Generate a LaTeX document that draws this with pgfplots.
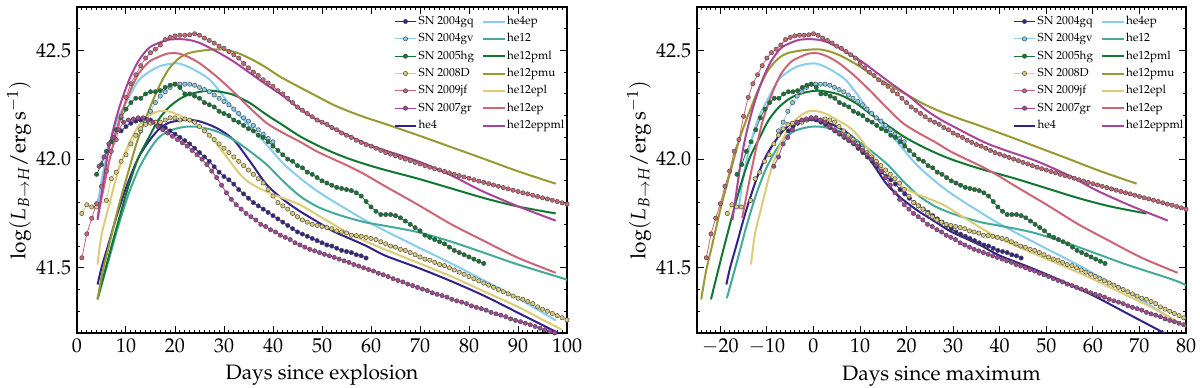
\documentclass[border=0pt]{standalone}
\usepackage[T1]{fontenc}
\usepackage{mathpazo}
\usepackage{pgfplots}
\usepackage{pgfplotstable}
\pgfplotsset{compat=1.18}

\definecolor{c1}{HTML}{332288}
\definecolor{c2}{HTML}{88CCEE}
\definecolor{c3}{HTML}{117733}
\definecolor{c4}{HTML}{DDCC77}
\definecolor{c5}{HTML}{CC6677}
\definecolor{c6}{HTML}{AA4499}
\definecolor{c7}{HTML}{44AA99}
\definecolor{c8}{HTML}{999933}

% observed light curves, t = days since explosion
\pgfplotstableread[row sep=\\]{t L\\
9 42.13\\ 10 42.15\\ 11 42.165\\ 12 42.175\\ 13 42.18\\ 14 42.185\\ 15 42.18\\ 16 42.17\\ 17 42.16\\ 18 42.145\\
19 42.13\\ 20 42.115\\ 21 42.10\\ 22 42.085\\ 23 42.07\\ 24 42.05\\ 25 42.03\\ 26 42.01\\ 27 41.99\\ 28 41.965\\
29 41.94\\ 30 41.92\\ 31 41.905\\ 32 41.885\\ 33 41.86\\ 34 41.84\\ 35 41.82\\ 36 41.80\\ 37 41.785\\ 38 41.77\\
39 41.755\\ 40 41.74\\ 41 41.725\\ 42 41.71\\ 43 41.695\\ 44 41.68\\ 45 41.665\\ 46 41.655\\ 47 41.645\\ 48 41.635\\
49 41.625\\ 50 41.615\\ 51 41.605\\ 52 41.60\\ 53 41.59\\ 54 41.58\\ 55 41.575\\ 56 41.57\\ 57 41.56\\ 58 41.555\\ 59 41.545\\
}\sngq
\pgfplotstableread[row sep=\\]{t L\\
13 42.13\\ 14 42.17\\ 15 42.22\\ 16 42.26\\ 17 42.29\\ 18 42.31\\ 19 42.33\\ 20 42.345\\ 21 42.345\\ 22 42.345\\
23 42.345\\ 24 42.34\\ 25 42.33\\ 26 42.32\\ 27 42.31\\ 28 42.295\\ 29 42.28\\ 30 42.265\\ 31 42.25\\ 32 42.23\\
33 42.21\\ 34 42.19\\ 35 42.175\\ 36 42.155\\ 37 42.135\\ 38 42.115\\ 39 42.095\\ 40 42.08\\
}\sngv
\pgfplotstableread[row sep=\\]{t L\\
4 41.93\\ 5 41.975\\ 6 42.036\\ 7 42.08\\ 8 42.135\\ 9 42.19\\ 10 42.23\\ 11 42.26\\ 12 42.28\\ 13 42.28\\
14 42.30\\ 15 42.31\\ 16 42.31\\ 17 42.315\\ 18 42.33\\ 19 42.34\\ 20 42.345\\ 21 42.33\\ 22 42.30\\ 23 42.30\\
24 42.29\\ 25 42.28\\ 26 42.26\\ 27 42.25\\ 28 42.24\\ 29 42.22\\ 30 42.21\\ 31 42.20\\ 32 42.18\\ 33 42.17\\
34 42.155\\ 35 42.14\\ 36 42.13\\ 37 42.11\\ 38 42.10\\ 39 42.08\\ 40 42.06\\ 41 42.04\\ 42 42.02\\ 43 42.00\\
44 41.99\\ 45 41.97\\ 46 41.96\\ 47 41.94\\ 48 41.93\\ 49 41.915\\ 50 41.90\\ 51 41.89\\ 52 41.88\\ 53 41.87\\
54 41.865\\ 55 41.86\\ 56 41.855\\ 57 41.845\\ 58 41.83\\ 59 41.805\\ 60 41.78\\ 61 41.76\\ 62 41.745\\ 63 41.745\\
64 41.745\\ 65 41.74\\ 66 41.73\\ 67 41.715\\ 68 41.70\\ 69 41.685\\ 70 41.67\\ 71 41.65\\ 72 41.64\\ 73 41.63\\
74 41.62\\ 75 41.61\\ 76 41.595\\ 77 41.58\\ 78 41.57\\ 79 41.56\\ 80 41.55\\ 81 41.54\\ 82 41.53\\ 83 41.52\\
}\snhg
\pgfplotstableread[row sep=\\]{t L\\
1 41.75\\ 2 41.79\\ 3 41.78\\ 4 41.78\\ 6 41.81\\ 7 41.91\\ 8 41.94\\ 9 41.99\\ 10 42.02\\ 11 42.07\\
12 42.11\\ 13 42.14\\ 14 42.16\\ 15 42.165\\ 16 42.17\\ 17 42.17\\ 18 42.18\\ 19 42.19\\ 20 42.19\\ 21 42.18\\
22 42.185\\ 23 42.18\\ 24 42.17\\ 25 42.15\\ 26 42.13\\ 27 42.11\\ 28 42.09\\ 29 42.07\\ 30 42.05\\ 31 42.03\\
32 42.01\\ 33 41.99\\ 34 41.97\\ 35 41.95\\ 36 41.93\\ 37 41.91\\ 38 41.89\\ 39 41.86\\ 40 41.83\\ 41 41.80\\
42 41.785\\ 43 41.77\\ 44 41.75\\ 45 41.735\\ 46 41.72\\ 47 41.71\\ 48 41.70\\ 49 41.695\\ 50 41.69\\ 51 41.685\\
52 41.68\\ 53 41.67\\ 54 41.665\\ 55 41.66\\ 56 41.65\\ 57 41.648\\ 58 41.645\\ 59 41.64\\ 60 41.635\\ 61 41.63\\
62 41.62\\ 63 41.61\\ 64 41.60\\ 65 41.595\\ 66 41.585\\ 67 41.58\\ 68 41.57\\ 69 41.56\\ 70 41.55\\ 71 41.54\\
72 41.535\\ 73 41.525\\ 74 41.515\\ 75 41.51\\ 76 41.50\\ 77 41.49\\ 78 41.48\\ 79 41.47\\ 80 41.46\\ 81 41.45\\
82 41.44\\ 83 41.43\\ 84 41.42\\ 85 41.41\\ 86 41.40\\ 87 41.39\\ 88 41.38\\ 89 41.37\\ 90 41.36\\ 91 41.355\\
92 41.345\\ 93 41.335\\ 94 41.32\\ 95 41.31\\ 96 41.30\\ 97 41.29\\ 98 41.28\\ 99 41.27\\ 100 41.26\\
}\snD
\pgfplotstableread[row sep=\\]{t L\\
1 41.546\\ 2 41.656\\ 3 41.728\\ 4 41.795\\ 5 41.875\\ 6 41.945\\ 7 42.036\\ 8 42.09\\ 9 42.197\\ 10 42.284\\
11 42.347\\ 12 42.388\\ 13 42.43\\ 14 42.465\\ 15 42.49\\ 16 42.506\\ 17 42.525\\ 18 42.55\\ 19 42.56\\ 20 42.567\\
21 42.57\\ 22 42.57\\ 23 42.572\\ 24 42.577\\ 25 42.57\\ 26 42.557\\ 27 42.546\\ 28 42.534\\ 29 42.52\\ 30 42.51\\
31 42.495\\ 32 42.48\\ 33 42.465\\ 34 42.44\\ 35 42.42\\ 36 42.40\\ 37 42.385\\ 38 42.365\\ 39 42.35\\ 40 42.335\\
41 42.315\\ 42 42.30\\ 43 42.28\\ 44 42.26\\ 45 42.24\\ 46 42.225\\ 47 42.21\\ 48 42.195\\ 49 42.18\\ 50 42.17\\
51 42.16\\ 52 42.145\\ 53 42.135\\ 54 42.12\\ 55 42.11\\ 56 42.10\\ 57 42.087\\ 58 42.077\\ 59 42.067\\ 60 42.06\\
61 42.05\\ 62 42.04\\ 63 42.03\\ 64 42.023\\ 65 42.015\\ 66 42.008\\ 67 42.0\\ 68 41.993\\ 69 41.985\\ 70 41.978\\
71 41.97\\ 72 41.963\\ 73 41.956\\ 74 41.95\\ 75 41.943\\ 76 41.937\\ 77 41.93\\ 78 41.924\\ 79 41.918\\ 80 41.912\\
81 41.905\\ 82 41.899\\ 83 41.893\\ 84 41.887\\ 85 41.881\\ 86 41.875\\ 87 41.869\\ 88 41.863\\ 89 41.857\\ 90 41.851\\
91 41.845\\ 92 41.84\\ 93 41.834\\ 94 41.828\\ 95 41.822\\ 96 41.817\\ 97 41.811\\ 98 41.805\\ 99 41.799\\ 100 41.793\\
101 41.788\\ 102 41.782\\ 103 41.776\\ 104 41.77\\ 105 41.764\\
}\snjf
\pgfplotstableread[row sep=\\]{t L\\
4.5 41.967\\ 5.5 42.01\\ 6.5 42.07\\ 7.5 42.10\\ 8.5 42.135\\ 9.5 42.17\\ 10.5 42.18\\ 11.5 42.185\\ 12.5 42.19\\ 13.5 42.19\\
14.5 42.18\\ 15.5 42.17\\ 16.5 42.15\\ 17.5 42.135\\ 18.5 42.12\\ 19.5 42.105\\ 20.5 42.09\\ 21.5 42.075\\ 22.5 42.06\\ 23.5 42.04\\
24.5 42.02\\ 25.5 42.0\\ 26.5 41.975\\ 27.5 41.945\\ 28.5 41.915\\ 29.5 41.88\\ 30.5 41.845\\ 31.5 41.815\\ 32.5 41.79\\ 33.5 41.77\\
34.5 41.75\\ 35.5 41.735\\ 36.5 41.72\\ 37.5 41.70\\ 38.5 41.69\\ 39.5 41.675\\ 40.5 41.665\\ 41.5 41.65\\ 42.5 41.64\\ 43.5 41.63\\
44.5 41.615\\ 45.5 41.605\\ 46.5 41.595\\ 47.5 41.585\\ 48.5 41.578\\ 49.5 41.57\\ 50.5 41.562\\ 51.5 41.555\\ 52.5 41.548\\ 53.5 41.54\\
54.5 41.532\\ 55.5 41.525\\ 56.5 41.515\\ 57.5 41.508\\ 58.5 41.5\\ 59.5 41.492\\ 60.5 41.485\\ 61.5 41.475\\ 62.5 41.468\\ 63.5 41.46\\
64.5 41.45\\ 65.5 41.442\\ 66.5 41.435\\ 67.5 41.425\\ 68.5 41.418\\ 69.5 41.41\\ 70.5 41.402\\ 71.5 41.395\\ 72.5 41.385\\ 73.5 41.378\\
74.5 41.372\\ 75.5 41.365\\ 76.5 41.355\\ 77.5 41.348\\ 78.5 41.342\\ 79.5 41.335\\ 80.5 41.325\\ 81.5 41.318\\ 82.5 41.312\\ 83.5 41.305\\
84.5 41.295\\ 85.5 41.288\\ 86.5 41.282\\ 87.5 41.275\\ 88.5 41.265\\ 89.5 41.258\\ 90.5 41.252\\ 91.5 41.245\\ 92.5 41.238\\ 93.5 41.23\\
94.5 41.222\\ 95.5 41.215\\ 96.5 41.208\\ 97.5 41.2\\ 98.5 41.193\\ 99.5 41.186\\
}\sngr

% model light curves
\pgfplotstableread[row sep=\\]{t L\\
4.2 41.423\\ 5 41.50\\ 6.4 41.607\\ 8.4 41.76\\ 10.5 41.898\\ 12.5 42.005\\ 14.6 42.08\\ 16.6 42.135\\ 18.6 42.166\\
20.7 42.177\\ 22.7 42.18\\ 25 42.174\\ 28.5 42.143\\ 31.9 42.09\\ 35.3 41.99\\ 38.7 41.883\\ 42.1 41.814\\ 45.5 41.76\\
48.9 41.714\\ 52.3 41.668\\ 55.7 41.634\\ 59.1 41.60\\ 62.9 41.556\\ 69.6 41.50\\ 76.4 41.438\\ 83.2 41.37\\ 90 41.293\\
96.8 41.216\\ 98.9 41.193\\
}\mhefour
\pgfplotstableread[row sep=\\]{t L\\
4.2 41.78\\ 5 41.90\\ 6.4 42.05\\ 8.4 42.19\\ 10.5 42.28\\ 12.5 42.36\\ 14.6 42.40\\ 16.6 42.425\\ 18.6 42.437\\
20.7 42.44\\ 22.7 42.425\\ 25.1 42.396\\ 27.1 42.365\\ 29.2 42.31\\ 31.2 42.25\\ 33.3 42.197\\ 35.3 42.15\\ 38.7 42.066\\
42.1 41.98\\ 45.5 41.913\\ 48.9 41.855\\ 52.3 41.806\\ 55.7 41.76\\ 59.1 41.715\\ 62.9 41.67\\ 69.6 41.595\\ 76.4 41.52\\
83.2 41.44\\ 90 41.36\\ 97.7 41.258\\
}\mhefourep
\pgfplotstableread[row sep=\\]{t L\\
4.2 41.36\\ 6.4 41.53\\ 8.4 41.69\\ 10.5 41.837\\ 12.5 41.95\\ 14.6 42.036\\ 16.6 42.097\\ 18.6 42.128\\ 20.7 42.143\\
22.7 42.15\\ 25.1 42.147\\ 28.5 42.128\\ 31.9 42.09\\ 35.3 42.036\\ 38.7 41.975\\ 42.1 41.898\\ 45.5 41.83\\ 48.9 41.783\\
52.3 41.752\\ 55.7 41.728\\ 59.1 41.708\\ 62.9 41.693\\ 69.6 41.664\\ 76.4 41.62\\ 83.2 41.568\\ 90 41.515\\ 99.9 41.446\\
102.8 41.42\\
}\mhetw
\pgfplotstableread[row sep=\\]{t L\\
4.2 41.355\\ 6.4 41.545\\ 8.4 41.71\\ 10.5 41.875\\ 12.5 42.005\\ 14.6 42.097\\ 16.6 42.18\\ 18.6 42.235\\ 20.7 42.273\\
22.7 42.296\\ 25.1 42.31\\ 27.1 42.315\\ 29.2 42.31\\ 31.9 42.296\\ 35.3 42.258\\ 38.7 42.204\\ 42.1 42.155\\ 45.5 42.105\\
48.9 42.065\\ 52.3 42.03\\ 55.7 42.0\\ 59.1 41.975\\ 62.9 41.95\\ 69.6 41.91\\ 76.4 41.865\\ 83.2 41.82\\ 90 41.782\\
97.7 41.75\\
}\mpml
\pgfplotstableread[row sep=\\]{t L\\
4.2 41.354\\ 5.2 41.48\\ 6.4 41.59\\ 8.4 41.775\\ 10.5 41.944\\ 12.5 42.097\\ 14.6 42.22\\ 16.6 42.327\\ 18.6 42.41\\
20.7 42.462\\ 22.7 42.487\\ 25.1 42.498\\ 27.5 42.504\\ 29.5 42.505\\ 31.5 42.497\\ 33.5 42.482\\ 36 42.455\\ 38.7 42.42\\
41.4 42.38\\ 45.5 42.33\\ 48.9 42.29\\ 52.3 42.25\\ 55.7 42.218\\ 59.1 42.19\\ 62.9 42.162\\ 66 42.138\\ 69.6 42.11\\
76.4 42.055\\ 83.2 42.0\\ 90 41.944\\ 97.7 41.887\\
}\mpmu
\pgfplotstableread[row sep=\\]{t L\\
4.2 41.515\\ 5 41.65\\ 6.4 41.775\\ 8.4 41.944\\ 10.5 42.066\\ 12.5 42.15\\ 14.6 42.197\\ 16.6 42.22\\ 18.6 42.22\\
20.7 42.204\\ 22.7 42.18\\ 25.1 42.15\\ 27.1 42.11\\ 29.2 42.05\\ 31.2 41.99\\ 33.3 41.93\\ 35.3 41.89\\ 38.7 41.85\\
42.1 41.82\\ 45.5 41.79\\ 48.9 41.745\\ 52.3 41.70\\ 55.7 41.656\\ 59.1 41.62\\ 62.9 41.584\\ 69.6 41.523\\ 76.4 41.46\\
83.2 41.39\\ 90 41.32\\ 96.8 41.24\\ 98.9 41.216\\
}\mepl
\pgfplotstableread[row sep=\\]{t L\\
4.2 41.73\\ 6.4 41.97\\ 8.4 42.16\\ 10.5 42.295\\ 12.5 42.39\\ 14.6 42.446\\ 16.6 42.47\\ 18.6 42.486\\ 20.7 42.486\\
22.7 42.47\\ 25.1 42.44\\ 28.5 42.38\\ 31.9 42.31\\ 35.3 42.235\\ 38.7 42.166\\ 42.1 42.12\\ 45.5 42.08\\ 48.9 42.036\\
52.3 42.0\\ 55.7 41.965\\ 59.1 41.925\\ 62.9 41.875\\ 69.6 41.79\\ 76.4 41.70\\ 83.2 41.622\\ 90 41.546\\ 97.7 41.477\\
}\mep
\pgfplotstableread[row sep=\\]{t L\\
4.2 41.72\\ 6.4 42.036\\ 8.4 42.22\\ 10.5 42.357\\ 12.5 42.45\\ 14.6 42.51\\ 16.6 42.534\\ 18.6 42.549\\ 20.7 42.552\\
22.7 42.549\\ 25.1 42.534\\ 28.5 42.495\\ 31.9 42.45\\ 35.3 42.396\\ 38.7 42.342\\ 42.1 42.29\\ 45.5 42.23\\ 48.9 42.182\\
52.3 42.143\\ 55.7 42.105\\ 59.1 42.07\\ 62.9 42.04\\ 69.6 41.99\\ 76.4 41.925\\ 82.5 41.855\\ 90 41.783\\ 97.7 41.717\\
}\meppml

\pgfplotsset{
  obs/.style={draw=#1, line width=0.5pt, mark=*, mark size=1.3pt,
    mark options={draw=black!70, fill=#1, line width=0.3pt, solid}},
  model/.style={draw=#1, line width=1.2pt, no markers, smooth},
  panel/.style={
    scale only axis, height=195.6pt, anchor=south west,
    ymin=41.2, ymax=42.7, ytick={41.5,42,42.5},
    minor ytick={41.3,41.4,41.6,41.7,41.8,41.9,42.1,42.2,42.3,42.4,42.6},
    tick align=inside, major tick length=4pt, minor tick length=2pt,
    tick style={black, line width=0.6pt},
    axis line style={line width=1.1pt},
    yticklabel style={/pgf/number format/.cd, fixed, fixed zerofill, precision=1},
    tick label style={font=\fontsize{12}{14}\selectfont},
    label style={font=\fontsize{12.5}{15}\selectfont},
    ylabel={$\log(L_{B\rightarrow H}/\mathrm{erg\,s}^{-1})$},
    ylabel shift=-4pt,
    legend columns=2,
    legend cell align=left,
    legend image code/.code={\draw[mark repeat=2, mark phase=2, ##1]
      plot coordinates {(0pt,0pt) (6.5pt,0pt) (13pt,0pt)};},
    legend style={draw=none, fill=none, at={(0.998,0.978)}, anchor=north east,
      font=\fontsize{7}{8}\selectfont, inner sep=0pt, row sep=2pt,
      nodes={inner sep=0.8pt, text height=5.2pt, text depth=1.6pt},
      /tikz/every even column/.append style={column sep=4pt}},
  }
}

% #1 = 0: days since explosion, #1 = 1: days since maximum
\newcommand{\allplots}[1]{%
  \addplot[obs=c1, forget plot] table[x expr=\thisrow{t}-#1*14.4, y=L] {\sngq};
  \addplot[obs=c2, forget plot] table[x expr=\thisrow{t}-#1*20.5, y=L] {\sngv};
  \addplot[obs=c3, forget plot] table[x expr=\thisrow{t}-#1*20.4, y=L] {\snhg};
  \addplot[obs=c4, forget plot] table[x expr=\thisrow{t}-#1*19.5, y=L] {\snD};
  \addplot[obs=c5, forget plot] table[x expr=\thisrow{t}-#1*24.0, y=L] {\snjf};
  \addplot[obs=c6, forget plot] table[x expr=\thisrow{t}-#1*13.0, y=L] {\sngr};
  \addplot[model=c1, forget plot] table[x expr=\thisrow{t}-#1*22.9, y=L] {\mhefour};
  \addplot[model=c2, forget plot] table[x expr=\thisrow{t}-#1*20.2, y=L] {\mhefourep};
  \addplot[model=c7, forget plot] table[x expr=\thisrow{t}-#1*22.8, y=L] {\mhetw};
  \addplot[model=c3, forget plot] table[x expr=\thisrow{t}-#1*26.2, y=L] {\mpml};
  \addplot[model=c8, forget plot] table[x expr=\thisrow{t}-#1*28.3, y=L] {\mpmu};
  \addplot[model=c4, forget plot] table[x expr=\thisrow{t}-#1*17.6, y=L] {\mepl};
  \addplot[model=c5, forget plot] table[x expr=\thisrow{t}-#1*19.5, y=L] {\mep};
  \addplot[model=c6, forget plot] table[x expr=\thisrow{t}-#1*21.6, y=L] {\meppml};
  % legend, filled row by row
  \addlegendimage{obs=c1}\addlegendentry{SN 2004gq}
  \addlegendimage{model=c2}\addlegendentry{he4ep}
  \addlegendimage{obs=c2}\addlegendentry{SN 2004gv}
  \addlegendimage{model=c7}\addlegendentry{he12}
  \addlegendimage{obs=c3}\addlegendentry{SN 2005hg}
  \addlegendimage{model=c3}\addlegendentry{he12pml}
  \addlegendimage{obs=c4}\addlegendentry{SN 2008D}
  \addlegendimage{model=c8}\addlegendentry{he12pmu}
  \addlegendimage{obs=c5}\addlegendentry{SN 2009jf}
  \addlegendimage{model=c4}\addlegendentry{he12epl}
  \addlegendimage{obs=c6}\addlegendentry{SN 2007gr}
  \addlegendimage{model=c5}\addlegendentry{he12ep}
  \addlegendimage{model=c1}\addlegendentry{he4}
  \addlegendimage{model=c6}\addlegendentry{he12eppml}
}

\begin{document}
\begin{tikzpicture}
\useasboundingbox (0,0) rectangle (720pt,232.8pt);
\begin{axis}[panel, at={(46.2pt,33pt)}, width=294pt,
    xmin=0, xmax=100, xtick={0,10,...,100}, minor xtick={0,1,...,100},
    xlabel={Days since explosion}]
  \allplots{0}
\end{axis}
\begin{axis}[panel, at={(418.2pt,33pt)}, width=293.4pt,
    xmin=-25, xmax=80, xtick={-20,-10,...,80}, minor xtick={-25,-24,...,80},
    xlabel={Days since maximum}]
  \allplots{1}
\end{axis}
\end{tikzpicture}
\end{document}
